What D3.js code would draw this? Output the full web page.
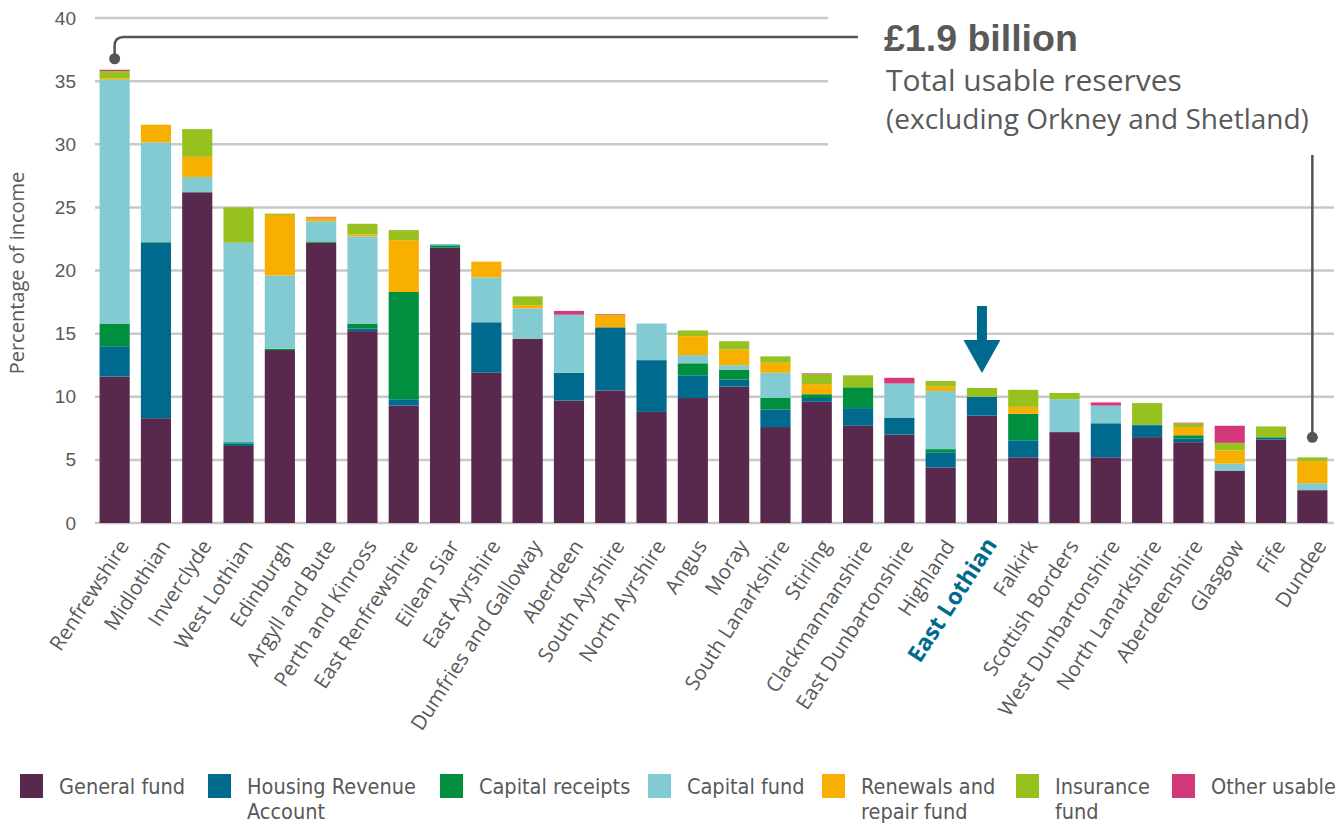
<!DOCTYPE html>
<html>
<head>
<meta charset="utf-8">
<script src="https://cdn.jsdelivr.net/npm/d3@7"></script>
<style>
    body { margin: 0; background: #fff; }
    svg { display: block; }
    text { font-family: "Open Sans", "Liberation Sans", sans-serif; fill: #595959; }
    .legend text { font-family: "Liberation Sans Narrow", "DejaVu Sans Condensed", sans-serif; }
</style>
</head>
<body>
<svg id="chart" width="1343" height="823"></svg>
<script>
// Councils, in the order shown
const councils = ['Renfrewshire', 'Midlothian', 'Inverclyde', 'West Lothian', 'Edinburgh', 'Argyll and Bute',
    'Perth and Kinross', 'East Renfrewshire', 'Eilean Siar', 'East Ayrshire', 'Dumfries and Galloway', 'Aberdeen',
    'South Ayrshire', 'North Ayrshire', 'Angus', 'Moray', 'South Lanarkshire', 'Stirling', 'Clackmannanshire',
    'East Dunbartonshire', 'Highland', 'East Lothian', 'Falkirk', 'Scottish Borders', 'West Dunbartonshire',
    'North Lanarkshire', 'Aberdeenshire', 'Glasgow', 'Fife', 'Dundee'];

// Reserves as % of income, per fund
const generalFund     = [11.6, 8.3, 26.2, 6.1, 13.7, 22.2, 15.2, 9.3, 21.8, 11.9, 14.6, 9.7, 10.5, 8.8, 9.9, 10.8, 7.6, 9.6, 7.7, 7.0, 4.4, 8.5, 5.2, 7.2, 5.2, 6.8, 6.4, 4.15, 6.6, 2.6];
const housingRevenue  = [2.4, 13.9, 0, 0.2, 0, 0, 0.2, 0.5, 0, 4.0, 0, 2.2, 5.0, 4.1, 1.8, 0.55, 1.4, 0.3, 1.4, 1.35, 1.2, 1.5, 1.35, 0, 2.7, 0.95, 0.3, 0, 0.15, 0];
const capitalReceipts = [1.8, 0.05, 0, 0.1, 0.1, 0.1, 0.4, 8.5, 0.2, 0, 0, 0, 0, 0, 0.95, 0.8, 0.9, 0.3, 1.65, 0, 0.25, 0, 2.1, 0, 0, 0.05, 0.25, 0, 0.05, 0];
const capitalFund     = [19.3, 7.9, 1.2, 15.8, 5.8, 1.6, 6.9, 0, 0.1, 3.55, 2.4, 4.6, 0, 2.9, 0.65, 0.35, 2.0, 0, 0, 2.7, 4.6, 0, 0, 2.6, 1.4, 0, 0, 0.55, 0, 0.55];
const renewalsRepair  = [0.1, 1.4, 1.6, 0, 4.8, 0.3, 0.15, 4.1, 0, 1.25, 0.25, 0, 1.0, 0, 1.5, 1.25, 0.8, 0.8, 0, 0, 0.35, 0, 0.55, 0, 0, 0, 0.65, 1.05, 0, 1.75];
const insurance       = [0.6, 0, 2.2, 2.8, 0.1, 0, 0.85, 0.8, 0, 0, 0.7, 0, 0, 0, 0.45, 0.65, 0.5, 0.8, 0.95, 0, 0.45, 0.7, 1.35, 0.5, 0, 1.7, 0.3, 0.6, 0.85, 0.3];
const otherUsable     = [0.1, 0, 0, 0, 0, 0.05, 0, 0, 0, 0, 0, 0.3, 0.05, 0, 0, 0, 0, 0.05, 0, 0.45, 0, 0, 0, 0, 0.25, 0, 0.05, 1.35, 0, 0];

const seriesNames = ['General fund', 'Housing Revenue\nAccount', 'Capital receipts', 'Capital fund',
    'Renewals and\nrepair fund', 'Insurance\nfund', 'Other usable'];
const seriesValues = [generalFund, housingRevenue, capitalReceipts, capitalFund, renewalsRepair, insurance, otherUsable];
const seriesColors = ['#59294d', '#006a8e', '#008f3e', '#82cbd3', '#f8b000', '#97c11f', '#d2387a'];
const yTicks = [0, 5, 10, 15, 20, 25, 30, 35, 40];

const highlight = 'East Lothian';

const svg = d3.select('#chart');

// build rows for d3.stack
const rows = councils.map((name, i) => {
    const row = { name };
    seriesNames.forEach((s, k) => row[s] = seriesValues[k][i]);
    return row;
});
const stacked = d3.stack().keys(seriesNames)(rows);

const x = d3.scaleBand()
    .domain(councils)
    .range([94, 1333])
    .paddingInner(0.27)
    .paddingOuter(0.135);

const y = d3.scaleLinear()
    .domain([0, 40])
    .range([523, 18]);

// grid lines - top three stop short to leave room for the annotation
svg.append('g')
    .selectAll('line')
    .data(yTicks)
    .join('line')
    .attr('x1', 95)
    .attr('x2', d => d >= 30 ? 828 : 1334)
    .attr('y1', d => y(d))
    .attr('y2', d => y(d))
    .style('stroke', '#c8c8c8')
    .style('stroke-width', 2.5);

// y axis labels
const yAxis = d3.axisLeft(y).tickValues(yTicks).tickSize(0).tickPadding(0);
svg.append('g')
    .attr('transform', 'translate(76,0)')
    .call(yAxis)
    .call(g => g.select('.domain').remove())
    .selectAll('text')
    .style('font-size', '19px')
    .style('font-family', '"Liberation Sans", sans-serif')
    .attr('fill', '#595959');

svg.append('text')
    .attr('transform', `translate(24,${y(19.8)}) rotate(-90)`)
    .attr('text-anchor', 'middle')
    .style('font-size', '20px')
    .text('Percentage of income');

// stacked bars
svg.append('g')
    .selectAll('g')
    .data(stacked)
    .join('g')
    .attr('fill', (d, i) => seriesColors[i])
    .selectAll('rect')
    .data(d => d)
    .join('rect')
    .attr('x', d => x(d.data.name))
    .attr('width', x.bandwidth())
    .attr('y', d => y(d[1]))
    .attr('height', d => y(d[0]) - y(d[1]));

// x axis labels, rotated
svg.append('g')
    .selectAll('text')
    .data(councils)
    .join('text')
    .attr('transform', d => `translate(${x(d) + x.bandwidth() / 2 + 9},${d === highlight ? 540 : 542}) rotate(-57)`)
    .attr('text-anchor', 'end')
    .attr('dy', '0.35em')
    .style('font-size', d => d === highlight ? '23px' : '20.5px')
    .style('font-weight', d => d === highlight ? 'bold' : 'normal')
    .style('fill', d => d === highlight ? '#006a8e' : '#595959')
    .text(d => d);

// totals, used for the annotations
const total = i => seriesValues.reduce((acc, s) => acc + s[i], 0);
const first = 0, last = councils.length - 1;
const cx0 = x(councils[first]) + x.bandwidth() / 2;
const cx1 = x(councils[last]) + x.bandwidth() / 2;

// connector from Renfrewshire to the headline
const dotY0 = y(total(first)) - 11;
svg.append('path')
    .attr('d', `M${cx0},${dotY0} V46 Q${cx0},37 ${cx0 + 9},37 H858`)
    .attr('fill', 'none')
    .style('stroke', '#555')
    .style('stroke-width', 2.5);
svg.append('circle').attr('cx', cx0).attr('cy', dotY0).attr('r', 5.5).attr('fill', '#555');

// connector down to Dundee
const dotY1 = y(total(last)) - 20;
svg.append('line')
    .attr('x1', cx1).attr('x2', cx1)
    .attr('y1', 155).attr('y2', dotY1)
    .style('stroke', '#555')
    .style('stroke-width', 2.5);
svg.append('circle').attr('cx', cx1).attr('cy', dotY1).attr('r', 5.5).attr('fill', '#555');

// headline text
const note = svg.append('g').attr('transform', 'translate(884,0)');
note.append('text').attr('y', 51)
    .style('font-family', '"Liberation Sans", sans-serif')
    .style('font-size', '37.5px').style('font-weight', 'bold')
    .text('£1.9 billion');
note.append('text').attr('x', 2).attr('y', 91)
    .style('font-size', '30px')
    .text('Total usable reserves');
note.append('text').attr('x', 2).attr('y', 129)
    .style('font-size', '28px')
    .text('(excluding Orkney and Shetland)');

// arrow above East Lothian
const hi = councils.indexOf(highlight);
const ax = x(highlight) + x.bandwidth() / 2;
const tipY = y(total(hi)) - 15;
svg.append('path')
    .attr('d', `M${ax - 5},${tipY - 67} H${ax + 5} V${tipY - 33} H${ax + 18.5} L${ax},${tipY} L${ax - 18.5},${tipY - 33} H${ax - 5} Z`)
    .attr('fill', '#006a8e');

// legend
const legendX = [20, 208, 440, 648, 822, 1016, 1172];
const legend = svg.append('g').attr('class', 'legend');
seriesNames.forEach((name, i) => {
    const g = legend.append('g').attr('transform', `translate(${legendX[i]},774)`);
    g.append('rect').attr('width', 23).attr('height', 24).attr('fill', seriesColors[i]);
    const t = g.append('text').attr('x', 39).attr('y', 20).style('font-size', '21.5px');
    name.split('\n').forEach((line, j) => {
        t.append('tspan').attr('x', 39).attr('dy', j === 0 ? 0 : 25).text(line);
    });
});
</script>
</body>
</html>
